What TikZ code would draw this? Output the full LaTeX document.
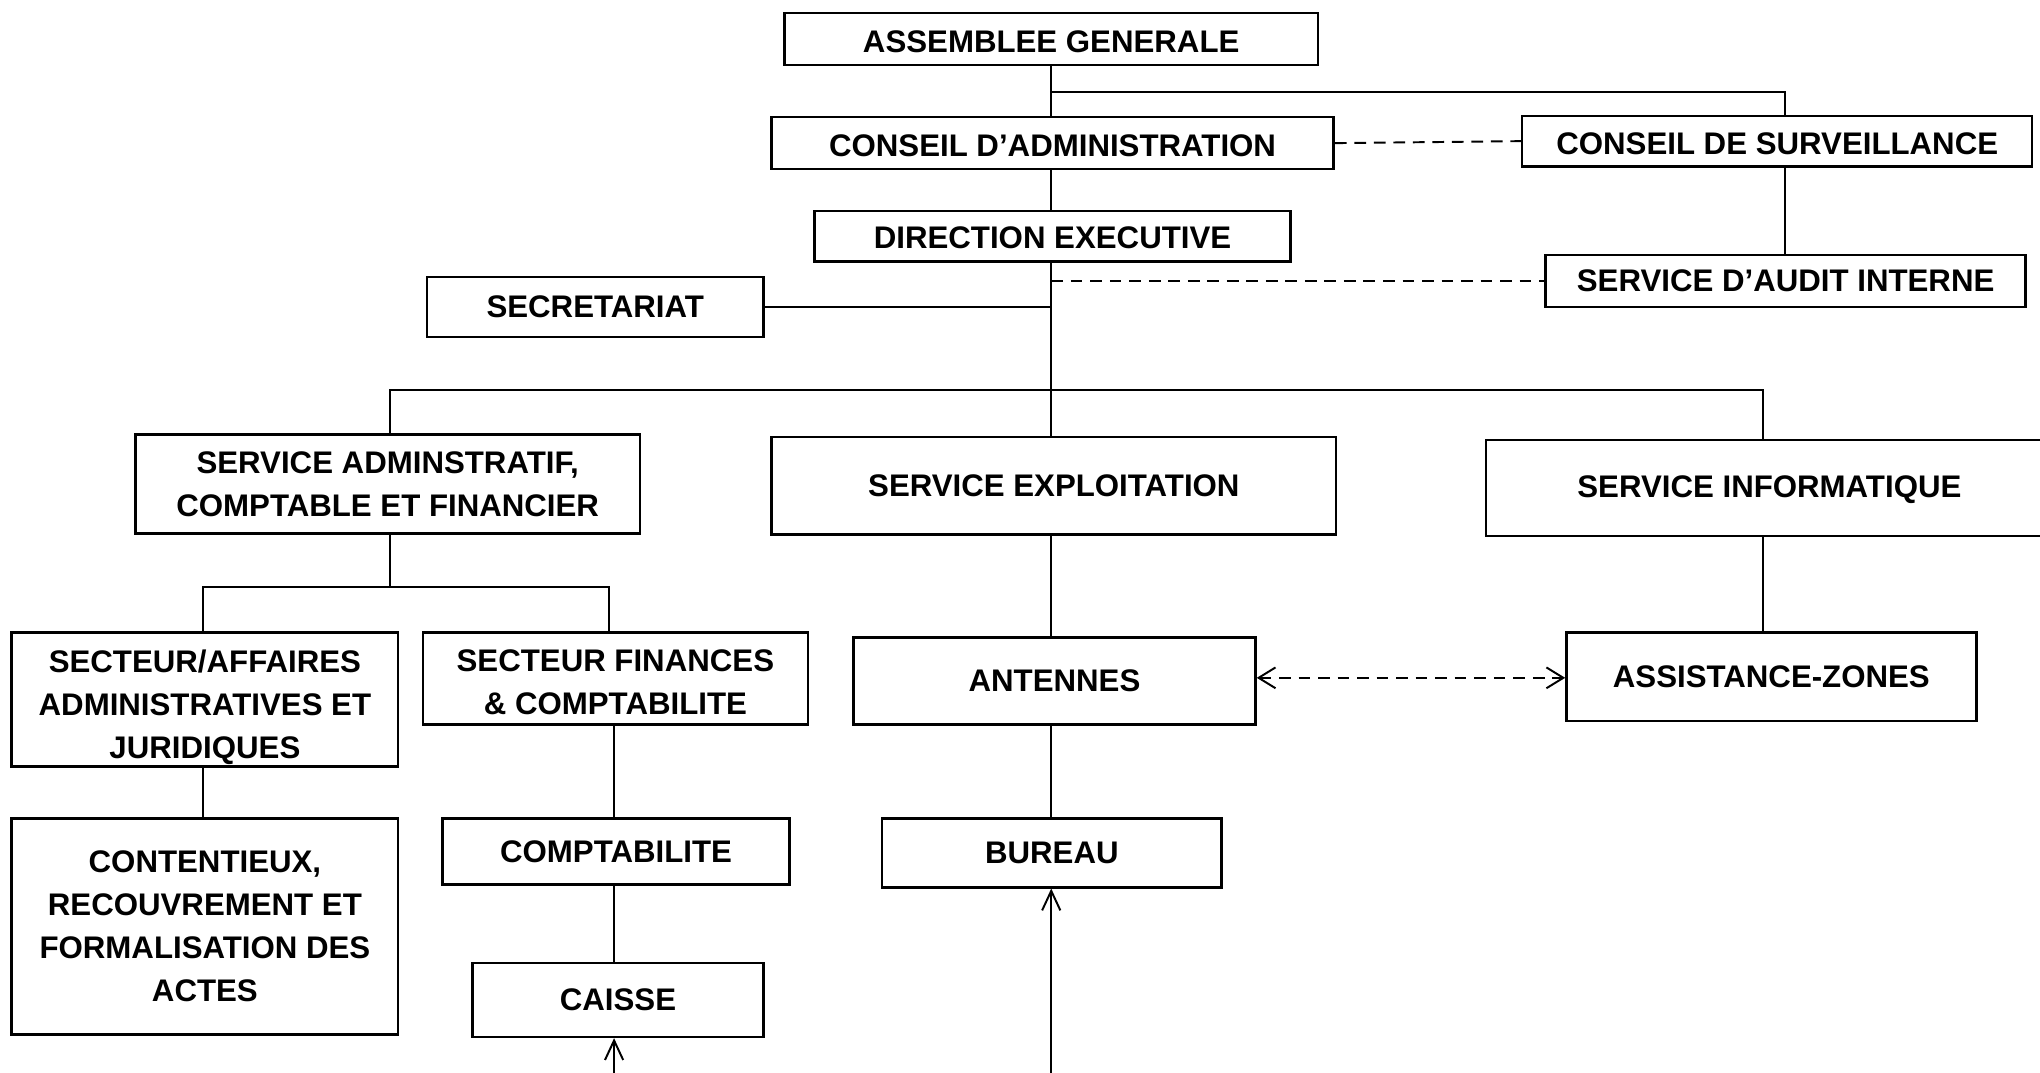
\documentclass[tikz,border=0pt]{standalone}
\usepackage{fontspec}
\setmainfont{Liberation Sans}
\usetikzlibrary{arrows.meta}
\begin{document}
\begin{tikzpicture}[x=1pt,y=-1pt,
  box/.style={draw, line width=1.9pt, align=center, inner sep=0pt,
    font=\fontsize{24}{33}\selectfont\bfseries},
  link/.style={line width=1.5pt},
  dashlink/.style={link, dash pattern=on 9pt off 6pt},
  uparrow/.style={link, -{Straight Barb[length=15pt,width=14pt,line width=1.5pt]}},
  twoarrow/.style={dashlink, {Straight Barb[length=13pt,width=16pt,line width=1.5pt]}-{Straight Barb[length=13pt,width=16pt,line width=1.5pt]}}
]
\useasboundingbox (0,0) rectangle (1568,824);
\fill[white] (0,0) rectangle (1568,824);

% nodes
\node[box, minimum width=410pt, minimum height=40pt] (ag) at (808,30) {\rule{0pt}{21pt}ASSEMBLEE GENERALE};
\node[box, minimum width=432pt, minimum height=40pt] (ca) at (809,110) {\rule{0pt}{21pt}CONSEIL D’ADMINISTRATION};
\node[box, minimum width=392pt, minimum height=39pt] (cs) at (1366,108.5) {\rule{0pt}{20pt}CONSEIL DE SURVEILLANCE};
\node[box, minimum width=366pt, minimum height=39pt] (de) at (809,181.5) {\rule{0pt}{20pt}DIRECTION EXECUTIVE};
\node[box, minimum width=259pt, minimum height=46pt] (sec) at (457.5,236) {SECRETARIAT};
\node[box, minimum width=369pt, minimum height=40pt] (audit) at (1372.5,216) {SERVICE D’AUDIT INTERNE};
\node[box, minimum width=388pt, minimum height=76pt] (saf) at (298,372) {SERVICE ADMINSTRATIF,\\COMPTABLE ET FINANCIER};
\node[box, minimum width=434pt, minimum height=75pt] (se) at (810,373.5) {SERVICE EXPLOITATION};
\node[box, minimum width=436pt, minimum height=74pt] (si) at (1360,375) {\rule{0pt}{20pt}SERVICE INFORMATIQUE};
\node[box, minimum width=297pt, minimum height=103pt] (saa) at (157.5,537.5) {\rule{0pt}{29pt}SECTEUR/AFFAIRES\\ADMINISTRATIVES ET\\JURIDIQUES};
\node[box, minimum width=296pt, minimum height=71pt] (sfc) at (473,521.5) {\rule{0pt}{23pt}SECTEUR FINANCES\\\& COMPTABILITE};
\node[box, minimum width=309pt, minimum height=67pt] (ant) at (810.5,523.5) {ANTENNES};
\node[box, minimum width=315pt, minimum height=68pt] (assist) at (1361.5,520) {ASSISTANCE-ZONES};
\node[box, minimum width=297pt, minimum height=166pt] (cont) at (157.5,712) {CONTENTIEUX,\\RECOUVREMENT ET\\FORMALISATION DES\\ACTES};
\node[box, minimum width=267pt, minimum height=51pt] (compta) at (473.5,654.5) {COMPTABILITE};
\node[box, minimum width=261pt, minimum height=53pt] (bureau) at (808.5,655.5) {BUREAU};
\node[box, minimum width=224pt, minimum height=57pt] (caisse) at (475,768.5) {CAISSE};

% junction coordinates
\coordinate (jag) at (808,71);
\coordinate (jcs) at (1372,71);
\coordinate (trunk) at (808,0);
\coordinate (jbus) at (0,300);
\coordinate (jsi) at (1355,0);
\coordinate (jsaf) at (0,451);
\coordinate (jsfc) at (468,0);
\coordinate (jfin) at (472,0);
\coordinate (cbot) at (472,830);
\coordinate (bbot) at (808,830);

% connectors
\draw[link] (ag.south -| trunk) -- (ca.north -| trunk);
\draw[link] (jag) -| (jcs |- cs.north);
\draw[dashlink] (ca.east) -- (cs.west);
\draw[link] (ca.south -| trunk) -- (de.north -| trunk);
\draw[link] (cs.south -| jcs) -- (audit.north -| jcs);
\draw[link] (de.south -| trunk) -- (se.north -| trunk);
\draw[dashlink] (audit.west -| trunk) -- (audit.west);
\draw[link] (sec.east) -- (sec.east -| trunk);
\draw[link] (saf.north -| 300,0) -- (jbus -| 300,0) -- (jbus -| jsi) -- (si.north -| jsi);
\draw[link] (saf.south -| 300,0) -- (jsaf -| 300,0);
\draw[link] (saa.north -| 156,0) -- (jsaf -| 156,0) -- (jsaf -| jsfc) -- (sfc.north -| jsfc);
\draw[link] (saa.south -| 156,0) -- (cont.north -| 156,0);
\draw[link] (sfc.south -| jfin) -- (compta.north -| jfin);
\draw[link] (compta.south -| jfin) -- (caisse.north -| jfin);
\draw[uparrow] (cbot) -- (caisse.south -| cbot);
\draw[link] (se.south -| trunk) -- (ant.north -| trunk);
\draw[link] (ant.south -| trunk) -- (bureau.north -| trunk);
\draw[uparrow] (bbot) -- (bureau.south -| bbot);
\draw[link] (si.south -| jsi) -- (assist.north -| jsi);
\draw[twoarrow] (ant.east |- 0,521) -- (assist.west |- 0,521);
\end{tikzpicture}
\end{document}
